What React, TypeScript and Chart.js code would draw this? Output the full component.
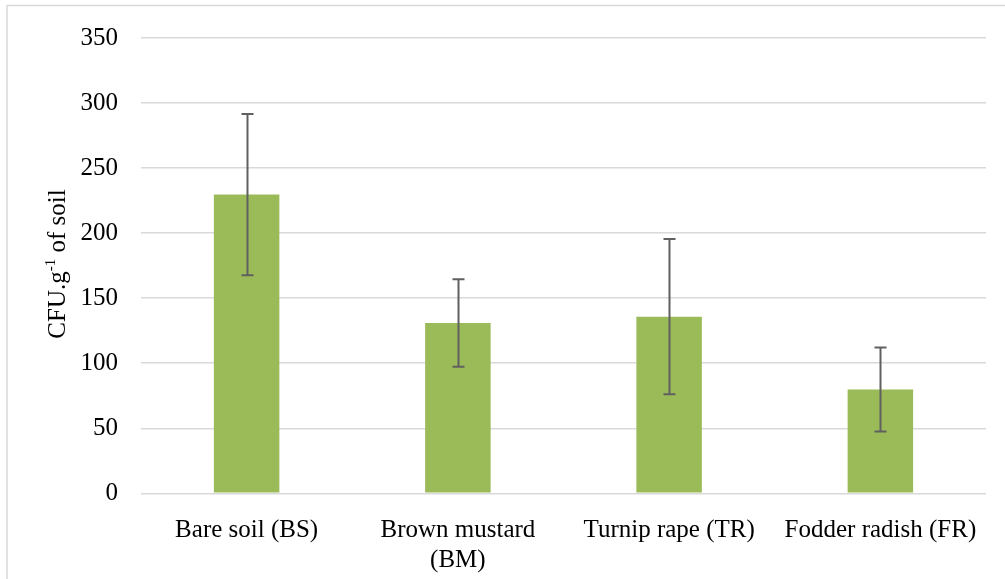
import React, { useEffect, useRef } from "react";
import { Chart, registerables } from "chart.js";

Chart.register(...registerables);

const categories: (string | string[])[] = [
  "Bare soil (BS)",
  ["Brown mustard", "(BM)"],
  "Turnip rape (TR)",
  "Fodder radish (FR)",
];
const meanValues = [229.6, 130.9, 135.8, 79.8];
const errorValues = [62.0, 33.6, 59.6, 32.3];
const yTicks = [0, 50, 100, 150, 200, 250, 300, 350];

const FONT = "'Liberation Serif', 'DejaVu Serif', serif";

const errorBarPlugin = {
  id: "errorBars",
  afterDatasetsDraw(chart: any) {
    const ctx = chart.ctx;
    const meta = chart.getDatasetMeta(0);
    const ys = chart.scales.y;
    ctx.save();
    ctx.strokeStyle = "#606060";
    ctx.lineWidth = 2;
    meta.data.forEach((bar: any, i: number) => {
      const x = Math.round(bar.x) + 0.5;
      const hi = ys.getPixelForValue(meanValues[i] + errorValues[i]);
      const lo = ys.getPixelForValue(meanValues[i] - errorValues[i]);
      ctx.beginPath();
      ctx.moveTo(x, hi);
      ctx.lineTo(x, lo);
      ctx.moveTo(x - 6, hi);
      ctx.lineTo(x + 6, hi);
      ctx.moveTo(x - 6, lo);
      ctx.lineTo(x + 6, lo);
      ctx.stroke();
    });
    ctx.restore();
  },
};

const frameAndTitlePlugin = {
  id: "frameAndTitle",
  beforeDraw(chart: any) {
    const ctx = chart.ctx;
    ctx.save();
    ctx.fillStyle = "#ffffff";
    ctx.fillRect(0, 0, chart.width, chart.height);
    ctx.strokeStyle = "#d9d9d9";
    ctx.lineWidth = 1.5;
    ctx.strokeRect(7, 5.5, chart.width + 20, chart.height + 20);
    ctx.restore();
  },
  afterDraw(chart: any) {
    const ctx = chart.ctx;
    ctx.save();
    const main = "25px " + FONT;
    const sup = "15px " + FONT;
    ctx.font = main;
    const w1 = ctx.measureText("CFU.g").width;
    const w3 = ctx.measureText(" of soil").width;
    ctx.font = sup;
    const w2 = ctx.measureText("-1").width;
    const total = w1 + w2 + w3;
    ctx.translate(65, 264);
    ctx.rotate(-Math.PI / 2);
    ctx.fillStyle = "#000000";
    ctx.textBaseline = "alphabetic";
    ctx.textAlign = "left";
    let x = -total / 2;
    ctx.font = main;
    ctx.fillText("CFU.g", x, 0);
    x += w1;
    ctx.font = sup;
    ctx.fillText("-1", x, -10);
    x += w2;
    ctx.font = main;
    ctx.fillText(" of soil", x, 0);
    ctx.restore();
  },
};

export default function App() {
  const ref = useRef<HTMLCanvasElement | null>(null);
  useEffect(() => {
    if (!ref.current) return;
    const chart = new Chart(ref.current, {
      type: "bar",
      data: {
        labels: categories,
        datasets: [
          {
            data: meanValues,
            backgroundColor: "#9BBB59",
            borderWidth: 0,
            categoryPercentage: 1,
            barPercentage: 0.31,
          },
        ],
      },
      options: {
        animation: false,
        responsive: false,
        maintainAspectRatio: false,
        layout: { padding: { left: 0, right: 19, top: 36, bottom: 0 } },
        plugins: {
          legend: { display: false },
          tooltip: { enabled: false },
        },
        scales: {
          x: {
            grid: { display: false },
            border: { display: false },
            ticks: {
              color: "#000000",
              font: { family: FONT, size: 25 },
              padding: 14,
              maxRotation: 0,
              autoSkip: false,
            },
            afterFit(scale: any) {
              scale.height = 85.7;
            },
          },
          y: {
            min: 0,
            max: 350,
            afterBuildTicks(scale: any) {
              scale.ticks = yTicks.map((v) => ({ value: v }));
            },
            grid: { color: "#d9d9d9", lineWidth: 1.5, drawTicks: false },
            border: { display: false },
            ticks: {
              color: "#000000",
              font: { family: FONT, size: 25 },
              padding: 23,
            },
            afterFit(scale: any) {
              scale.width = 141;
            },
          },
        },
      },
      plugins: [frameAndTitlePlugin, errorBarPlugin],
    });
    return () => chart.destroy();
  }, []);
  return (
    <div style={{ position: "fixed", left: 0, top: 0, width: 1005, height: 579, background: "#fff" }}>
      <canvas ref={ref} width={1005} height={579} style={{ display: "block" }} />
    </div>
  );
}
